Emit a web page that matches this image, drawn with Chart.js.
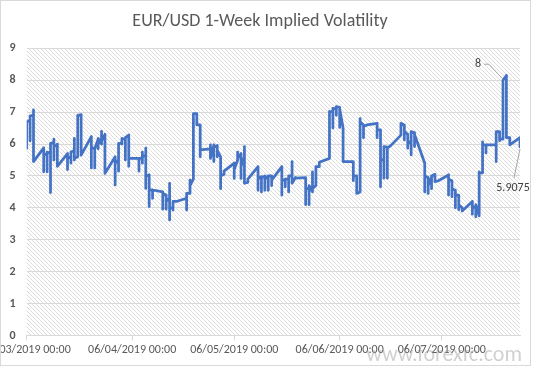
<!DOCTYPE html>
<html><head><meta charset="utf-8">
<script src="https://cdn.jsdelivr.net/npm/chart.js@4"></script>
<style>
html,body{margin:0;padding:0;background:#fff;}
#wrap{position:relative;width:534px;height:366px;overflow:hidden;}
canvas{display:block;}
#frame{position:absolute;left:0;top:0;width:529px;height:364px;border:1px solid #d9d9d9;pointer-events:none;}
</style></head><body>
<div id="wrap"><canvas id="c" width="534" height="366"></canvas><div id="frame"></div></div>
<script>
const chartTitle = 'EUR/USD 1-Week Implied Volatility';
const startDate = '2019-03-06';
const endDate = '2019-07-29';
const tickDates = ['2019-03-06','2019-04-06','2019-05-06','2019-06-06','2019-07-06'];
const tickLabels = ['06/03/2019 00:00','06/04/2019 00:00','06/05/2019 00:00','06/06/2019 00:00','06/07/2019 00:00'];
const yMin = 0, yMax = 9;
const watermark = 'www.forexfc.com';

const tradeDates = [
'2019-03-06','2019-03-07','2019-03-08',
'2019-03-11','2019-03-12','2019-03-13','2019-03-14','2019-03-15',
'2019-03-18','2019-03-19','2019-03-20','2019-03-21','2019-03-22',
'2019-03-25','2019-03-26','2019-03-27','2019-03-28','2019-03-29',
'2019-04-01','2019-04-02','2019-04-03','2019-04-04','2019-04-05',
'2019-04-08','2019-04-09','2019-04-10','2019-04-11','2019-04-12',
'2019-04-15','2019-04-16','2019-04-17','2019-04-18','2019-04-19',
'2019-04-22','2019-04-23','2019-04-24','2019-04-25','2019-04-26',
'2019-04-29','2019-04-30','2019-05-01','2019-05-02','2019-05-03',
'2019-05-06','2019-05-07','2019-05-08','2019-05-09','2019-05-10',
'2019-05-13','2019-05-14','2019-05-15','2019-05-16','2019-05-17',
'2019-05-20','2019-05-21','2019-05-22','2019-05-23','2019-05-24',
'2019-05-27','2019-05-28','2019-05-29','2019-05-30','2019-05-31',
'2019-06-03','2019-06-04','2019-06-05','2019-06-06','2019-06-07',
'2019-06-10','2019-06-11','2019-06-12','2019-06-13','2019-06-14',
'2019-06-17','2019-06-18','2019-06-19','2019-06-20','2019-06-21',
'2019-06-24','2019-06-25','2019-06-26','2019-06-27','2019-06-28',
'2019-07-01','2019-07-02','2019-07-03','2019-07-04','2019-07-05',
'2019-07-08','2019-07-09','2019-07-10','2019-07-11','2019-07-12',
'2019-07-15','2019-07-16','2019-07-17','2019-07-18','2019-07-19',
'2019-07-22','2019-07-23','2019-07-24','2019-07-25','2019-07-26',
'2019-07-29'];

const dayValues = [
[6.65,5.87,6.7],[6.75,6.1,6.88],[6.9,7.07,5.45],
[5.88,5.13,5.65],[5.7,5.13,5.75],[5.7,4.48,6.02],[6.05,6.15,5.5,5.95],[5.95,6.0,5.3],
[5.7,5.2,5.55],[5.6,5.4,5.75],[5.8,5.5,6.18,5.55],[5.6,5.9,6.9],[6.92,6.75,5.65],
[6.23,5.25,5.9],[5.85,5.25,5.85],[6.15,5.85,6.18],[6.0,6.4,6.1],[6.3,5.08],
[5.6,4.72,5.4],[5.5,6.02,5.15,6.0],[6.05,6.18,6.0,6.15],[6.18,5.5,6.2],[6.28,5.3,5.55],
[5.55,5.15,5.55],[5.55,5.75,5.4,5.6],[5.65,5.87,4.61,5.0],[5.03,4.04,4.55],[4.56,4.3,4.56],
[4.5,3.96,4.45],[4.4,3.96,4.2],[4.3,4.77,3.62,4.0],[4.0,4.2,3.93,4.2],[4.2],
[4.3,3.93,4.45],[4.45,4.87,4.7],[4.9,6.93,6.95],[6.95,6.6],[6.6,5.6,5.82],
[5.85,5.97,5.55],[5.97,5.45,5.9],[5.95,5.6,5.8],[5.6,4.6,5.0],[5.05,5.15],
[5.4,4.92,5.2],[5.5,5.75,5.55],[5.7,4.92,5.3],[5.6,5.92,4.77],[4.8,4.9],
[5.29,4.55,5.0],[4.9,4.5,4.98],[4.95,4.55,5.0],[4.9,4.55,5.0],[5.0,4.7,4.87],
[5.29,4.4,4.9],[4.85,4.66,4.9],[4.9,4.5,5.0],[5.0,5.45,4.77],[4.95,4.93],
[4.95,4.1,4.6],[4.6,4.1,4.7],[4.5,5.13,4.6],[4.7,5.29],[5.29,5.43],
[5.55,6.9,6.75,7.02],[7.0,6.5,7.12],[7.1,6.9,7.17],[7.15,6.52,7.1],[6.5,5.45],
[5.45,4.85,5.0],[5.0,4.5,4.45],[4.5,6.8,6.2,6.7],[6.6,6.2,6.55],[6.6],
[6.65,6.2,6.45],[6.44,4.66,5.5],[5.5,4.93,5.92],[5.9,4.93,5.66,5.87],[5.95],
[6.28,6.6,6.65],[6.6,6.13,6.4],[6.3,5.87,6.1],[6.0,5.66,6.39],[6.35,5.92,6.3],
[5.4,4.5,5.0],[4.95,4.45,4.7],[4.95,4.6,5.0],[5.05,4.9,4.82],[4.85],
[5.03,4.4,4.9],[4.85,4.35,4.6],[4.55,4.0,4.4],[4.4,3.94,4.1],[4.0,3.9],
[4.2,3.8,4.05],[4.0,3.72,4.1],[3.75,5.13,5.1],[5.1,6.07,6.0],[5.95,5.72,5.97],
[5.97,5.45,6.39],[6.39,6.1,6.15],[6.15,8.0],[8.15,6.44,6.2],[6.2,5.97],
[6.2,5.9075]];

const labelDates = ['2019-07-24','2019-07-29'];
const labelValues = [8, 5.9075];
const labelTexts = ['8', '5.9075'];

function dayIndex(s){
  const a = s.split('-').map(Number), b = startDate.split('-').map(Number);
  return Math.round((Date.UTC(a[0],a[1]-1,a[2]) - Date.UTC(b[0],b[1]-1,b[2]))/86400000);
}
const points = [];
tradeDates.forEach((d,i)=>{ const x = dayIndex(d); dayValues[i].forEach(v=>points.push({x:x,y:v})); });
const tickDays = tickDates.map(dayIndex);

const FONT = 'Carlito, Lato, "Liberation Sans", sans-serif';

const pc = document.createElement('canvas'); pc.width = 4; pc.height = 4;
const pctx = pc.getContext('2d');
pctx.fillStyle = '#ffffff'; pctx.fillRect(0,0,4,4);
pctx.fillStyle = '#dcdcdc'; for (let i=0;i<4;i++) pctx.fillRect(i,i,1,1);

const hatchPlugin = {
  id:'hatch',
  beforeDraw(chart){
    const {ctx, chartArea:a} = chart;
    ctx.save();
    ctx.fillStyle = '#fff'; ctx.fillRect(0,0,chart.width,chart.height);
    ctx.fillStyle = ctx.createPattern(pc,'repeat');
    ctx.fillRect(a.left, a.top, a.right-a.left, a.bottom-a.top);
    ctx.restore();
  }
};

const labelPlugin = {
  id:'labels',
  afterDatasetsDraw(chart){
    const {ctx, scales:{x,y}} = chart;
    ctx.save();
    ctx.strokeStyle = '#a6a6a6'; ctx.lineWidth = 1;
    ctx.fillStyle = '#404040'; ctx.font = '12px ' + FONT;
    ctx.textAlign = 'center'; ctx.textBaseline = 'middle';
    labelDates.forEach((d,i)=>{
      const px = x.getPixelForValue(dayIndex(d)), py = y.getPixelForValue(labelValues[i]);
      ctx.beginPath();
      if (i === 0) {
        ctx.moveTo(px-1, py-2); ctx.lineTo(px-14, py-16); ctx.lineTo(px-19, py-16); ctx.stroke();
        ctx.fillText(labelTexts[i], px-25, py-16);
      } else {
        ctx.moveTo(px, py+2); ctx.lineTo(px-6, py+31); ctx.stroke();
        ctx.fillText(labelTexts[i], px-7, py+41);
      }
    });
    ctx.restore();
  },
  afterDraw(chart){
    const ctx = chart.ctx;
    ctx.save();
    ctx.fillStyle = 'rgba(150,150,150,0.45)';
    ctx.font = '22px ' + FONT;
    ctx.textAlign = 'right'; ctx.textBaseline = 'alphabetic';
    ctx.fillText(watermark, 522, 361);
    ctx.restore();
  }
};

new Chart(document.getElementById('c'), {
  type:'line',
  data:{ datasets:[{ data: points, borderColor:'#4472C4', borderWidth:2.75, pointRadius:0, tension:0, fill:false, borderJoinStyle:'round', borderCapStyle:'round' }]},
  options:{
    responsive:false, animation:false, devicePixelRatio:1,
    layout:{ padding:{ left:0, right:14, top:0, bottom:0 } },
    plugins:{
      legend:{display:false}, tooltip:{enabled:false},
      title:{ display:true, text:chartTitle, color:'#595959', font:{family:FONT, size:18, weight:'normal', lineHeight:1.2}, padding:{top:11, bottom:15.7} }
    },
    scales:{
      x:{ type:'linear', min:0, max:dayIndex(endDate),
        afterBuildTicks(s){ s.ticks = tickDays.map(v=>({value:v})); },
        afterFit(s){ s.paddingLeft = 0; s.paddingRight = 0; s.height = 30.5; },
        ticks:{ autoSkip:false, maxRotation:0, minRotation:0, color:'#595959', font:{family:FONT, size:12}, padding:2,
          callback(v,i){ return tickLabels[i]; } },
        grid:{ drawOnChartArea:false, drawTicks:true, tickLength:5, color:'#d9d9d9' },
        border:{ display:true, color:'#d9d9d9' }
      },
      y:{ min:yMin, max:yMax,
        afterFit(s){ s.width = 26.7; s.paddingTop = 0; s.paddingBottom = 0; },
        ticks:{ stepSize:1, color:'#595959', font:{family:FONT, size:12, weight:'bold'}, padding:11 },
        grid:{ color:'#d9d9d9', drawTicks:false },
        border:{ display:false }
      }
    }
  },
  plugins:[hatchPlugin, labelPlugin]
});
</script>
</body></html>
